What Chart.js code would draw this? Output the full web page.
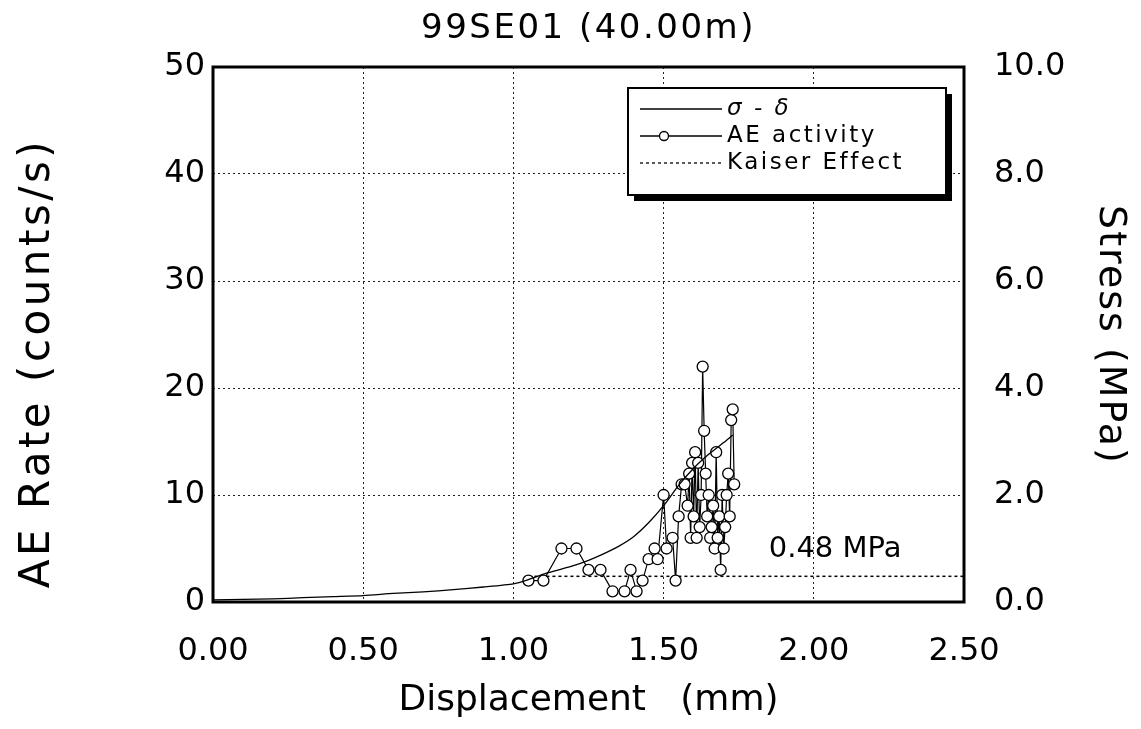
<!DOCTYPE html>
<html>
<head>
<meta charset="utf-8">
<script src="https://cdn.jsdelivr.net/npm/chart.js@4/dist/chart.umd.min.js"></script>
<style>
  html, body { margin: 0; padding: 0; background: #fff; }
</style>
</head>
<body>
<canvas id="chart" width="1141" height="729"></canvas>
<script>
// Stress - displacement curve (MPa, right axis)
const stressDisp = [0.00, 0.10, 0.20, 0.30, 0.40, 0.50, 0.60, 0.70, 0.80, 0.90, 1.00, 1.05, 1.10, 1.15, 1.20, 1.25, 1.30, 1.35, 1.40, 1.45, 1.50, 1.55, 1.60, 1.65, 1.70, 1.73];
const stressVal  = [0.04, 0.05, 0.06, 0.08, 0.10, 0.12, 0.16, 0.19, 0.23, 0.28, 0.34, 0.42, 0.52, 0.60, 0.68, 0.78, 0.90, 1.04, 1.22, 1.48, 1.80, 2.18, 2.50, 2.76, 2.98, 3.12];

// AE rate (counts/s, left axis)
const aeDisp = [1.05, 1.10, 1.16, 1.21, 1.25, 1.29, 1.33, 1.37, 1.39, 1.41, 1.43, 1.45, 1.47, 1.48, 1.50, 1.51, 1.53, 1.54, 1.55, 1.56,
                1.57, 1.58, 1.585, 1.59, 1.595, 1.60, 1.605, 1.61, 1.615, 1.62, 1.625, 1.63, 1.635, 1.64, 1.645, 1.65, 1.655, 1.66, 1.665, 1.67,
                1.675, 1.68, 1.685, 1.69, 1.695, 1.70, 1.705, 1.71, 1.715, 1.72, 1.725, 1.73, 1.735];
const aeRate = [2, 2, 5, 5, 3, 3, 1, 1, 3, 1, 2, 4, 5, 4, 10, 5, 6, 2, 8, 11,
                11, 9, 12, 6, 13, 8, 14, 6, 13, 7, 10, 22, 16, 12, 8, 10, 6, 7, 9, 5,
                14, 6, 8, 3, 10, 5, 7, 10, 12, 8, 17, 18, 11];

// Kaiser effect level
const kaiserDisp = [1.05, 2.50];
const kaiserStress = [0.48, 0.48];

const xTicks = [0, 0.5, 1.0, 1.5, 2.0, 2.5];
const FONT = "'DejaVu Sans', sans-serif";

const zip = (xs, ys) => xs.map((x, i) => ({ x: x, y: ys[i] }));

function text(ctx, str, x, y, font, spacing, rot) {
  ctx.save();
  ctx.translate(x, y);
  if (rot) ctx.rotate(rot);
  ctx.font = font;
  ctx.letterSpacing = (spacing || 0) + 'px';
  ctx.textAlign = 'center';
  ctx.textBaseline = 'middle';
  ctx.fillText(str, 0, 0);
  ctx.restore();
}

// frame, titles, value note and boxed legend
const decor = {
  id: 'decor',
  afterDraw(chart) {
    const ctx = chart.ctx;
    const a = chart.chartArea;
    const xs = chart.scales.x;
    const y1 = chart.scales.y1;
    ctx.save();

    ctx.strokeStyle = '#000';
    ctx.lineWidth = 3;
    ctx.strokeRect(a.left, a.top, a.right - a.left, a.bottom - a.top);

    ctx.fillStyle = '#000';
    text(ctx, '99SE01 (40.00m)', (a.left + a.right) / 2, 29, '34px ' + FONT, 2.5);
    text(ctx, 'Displacement   (mm)', (a.left + a.right) / 2, 701, '36px ' + FONT, 0);
    text(ctx, 'AE Rate (counts/s)', 38, 363, '42px ' + FONT, 3.5, -Math.PI / 2);
    text(ctx, 'Stress (MPa)', 1110, 335, '38px ' + FONT, 2, Math.PI / 2);

    ctx.textAlign = 'left';
    ctx.textBaseline = 'middle';
    ctx.font = '29px ' + FONT;
    ctx.fillText(kaiserStress[0].toFixed(2) + ' MPa', xs.getPixelForValue(1.85), y1.getPixelForValue(kaiserStress[0]) - 27);

    // legend box with drop shadow
    const bx = 628, by = 88, bw = 318, bh = 107;
    ctx.fillStyle = '#000';
    ctx.fillRect(bx + 6, by + 6, bw, bh);
    ctx.fillStyle = '#fff';
    ctx.fillRect(bx, by, bw, bh);
    ctx.lineWidth = 2;
    ctx.strokeRect(bx, by, bw, bh);

    const rows = [109, 136, 163];
    const lx0 = 640, lx1 = 722, tx = 727;
    ctx.lineWidth = 1.3;
    ctx.strokeStyle = '#000';
    ctx.beginPath(); ctx.moveTo(lx0, rows[0]); ctx.lineTo(lx1, rows[0]); ctx.stroke();
    ctx.beginPath(); ctx.moveTo(lx0, rows[1]); ctx.lineTo(lx1, rows[1]); ctx.stroke();
    ctx.beginPath(); ctx.arc(664, rows[1], 4.5, 0, Math.PI * 2);
    ctx.fillStyle = '#fff'; ctx.fill(); ctx.stroke();
    ctx.setLineDash([3, 3]);
    ctx.beginPath(); ctx.moveTo(lx0, rows[2]); ctx.lineTo(lx1, rows[2]); ctx.stroke();
    ctx.setLineDash([]);

    ctx.fillStyle = '#000';
    ctx.letterSpacing = '2.5px';
    ctx.font = 'italic 23px ' + FONT;
    ctx.fillText('σ - δ', tx, rows[0]);
    ctx.font = '23px ' + FONT;
    ctx.fillText('AE activity', tx, rows[1]);
    ctx.fillText('Kaiser Effect', tx, rows[2]);

    ctx.restore();
  }
};

const gridOpts = { color: '#222', lineWidth: 1, drawTicks: false };
const tickFont = { family: FONT, size: 32 };

new Chart(document.getElementById('chart'), {
  type: 'line',
  data: {
    datasets: [
      {
        label: 'σ - δ',
        data: zip(stressDisp, stressVal),
        yAxisID: 'y1',
        borderColor: '#000',
        borderWidth: 1.3,
        pointRadius: 0,
        tension: 0.2
      },
      {
        label: 'AE activity',
        data: zip(aeDisp, aeRate),
        yAxisID: 'y',
        borderColor: '#000',
        borderWidth: 1.2,
        pointRadius: 5.5,
        pointBackgroundColor: '#fff',
        pointBorderColor: '#000',
        pointBorderWidth: 1.3
      },
      {
        label: 'Kaiser Effect',
        data: zip(kaiserDisp, kaiserStress),
        yAxisID: 'y1',
        borderColor: '#000',
        borderWidth: 1.5,
        borderDash: [3, 3],
        pointRadius: 0
      }
    ]
  },
  options: {
    responsive: false,
    animation: false,
    layout: { padding: { top: 67, left: 0, right: 0, bottom: 0 } },
    plugins: { legend: { display: false }, tooltip: { enabled: false } },
    scales: {
      x: {
        type: 'linear',
        min: 0, max: 2.5,
        afterBuildTicks: s => { s.ticks = xTicks.map(v => ({ value: v })); },
        afterFit: s => { s.height = 127; },
        ticks: { color: '#000', font: tickFont, padding: 30, callback: v => v.toFixed(2), maxRotation: 0 },
        grid: gridOpts,
        border: { display: false, dash: [2, 3] }
      },
      y: {
        position: 'left',
        min: 0, max: 50,
        ticks: { stepSize: 10, color: '#000', font: tickFont, padding: 8 },
        afterFit: s => { s.width = 213; },
        grid: gridOpts,
        border: { display: false, dash: [2, 3] }
      },
      y1: {
        position: 'right',
        min: 0, max: 10,
        ticks: { stepSize: 2, color: '#000', font: tickFont, padding: 30, callback: v => v.toFixed(1) },
        afterFit: s => { s.width = 177; },
        grid: { drawOnChartArea: false, drawTicks: false },
        border: { display: false }
      }
    }
  },
  plugins: [decor]
});
</script>
</body>
</html>
